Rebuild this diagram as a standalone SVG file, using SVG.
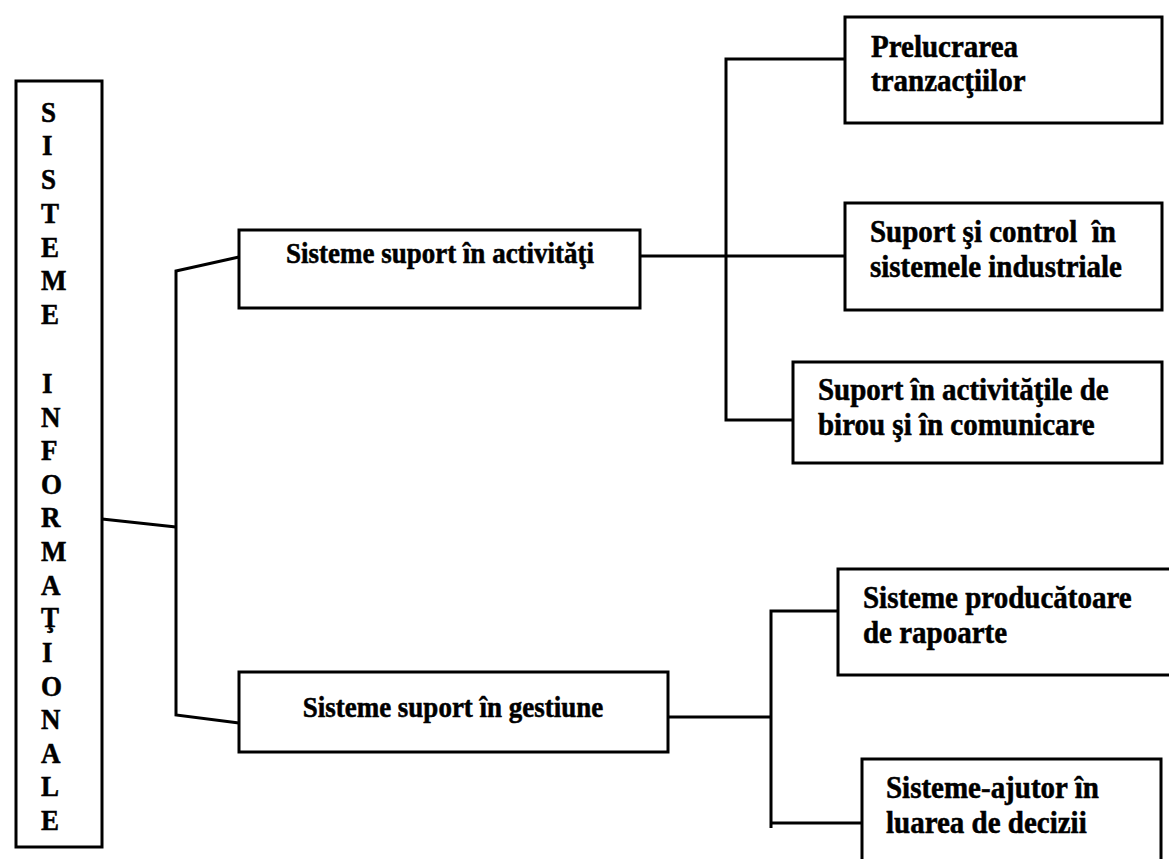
<svg xmlns="http://www.w3.org/2000/svg" width="1169" height="859" viewBox="0 0 1169 859">
  <style>
    .box { fill: #ffffff; stroke: #000000; stroke-width: 3; }
    .wire { fill: none; stroke: #000000; stroke-width: 3; stroke-linejoin: miter; }
    .t { font-family: "Liberation Serif", "Times New Roman", serif; font-weight: bold; fill: #000000; stroke: #000000; stroke-width: 0.5; }
    .mid { font-size: 27px; text-anchor: middle; }
    .side { font-size: 29px; white-space: pre; }
    .vert { font-size: 27px; }
  </style>
  <rect width="1169" height="859" fill="#ffffff"/>

  <!-- connectors -->
  <g id="connectors">
    <!-- root to the two branches -->
    <polyline class="wire" points="102,519 176,527"/>
    <polyline class="wire" points="239,257 176,271 176,715 239,723"/>
    <!-- activity support branch -->
    <line class="wire" x1="640" y1="256" x2="845" y2="256"/>
    <polyline class="wire" points="845,59 726,59 726,420 793,420"/>
    <!-- management support branch -->
    <line class="wire" x1="668" y1="717" x2="771" y2="717"/>
    <polyline class="wire" points="838,611 771,611 771,828"/>
    <line class="wire" x1="771" y1="823" x2="862" y2="823"/>
  </g>

  <!-- root: vertical title, letters slightly stretched in height -->
  <g id="sisteme-informationale">
    <rect class="box" x="16" y="81" width="86" height="766"/>
    <g class="t vert">
      <text transform="translate(41,122) scale(1,1.12)">S</text>
      <text transform="translate(42,155) scale(1,1.12)">I</text>
      <text transform="translate(41,189) scale(1,1.12)">S</text>
      <text transform="translate(41,223) scale(1,1.12)">T</text>
      <text transform="translate(41,257) scale(1,1.12)">E</text>
      <text transform="translate(41,290) scale(1,1.12)">M</text>
      <text transform="translate(41,324) scale(1,1.12)">E</text>
      <text transform="translate(42,393) scale(1,1.12)">I</text>
      <text transform="translate(41,427) scale(1,1.12)">N</text>
      <text transform="translate(41,460) scale(1,1.12)">F</text>
      <text transform="translate(41,494) scale(1,1.12)">O</text>
      <text transform="translate(41,527) scale(1,1.12)">R</text>
      <text transform="translate(41,561) scale(1,1.12)">M</text>
      <text transform="translate(41,595) scale(1,1.12)">A</text>
      <text transform="translate(41,627) scale(1,1.12)">Ţ</text>
      <text transform="translate(42,662) scale(1,1.12)">I</text>
      <text transform="translate(41,696) scale(1,1.12)">O</text>
      <text transform="translate(41,729) scale(1,1.12)">N</text>
      <text transform="translate(41,763) scale(1,1.12)">A</text>
      <text transform="translate(41,796) scale(1,1.12)">L</text>
      <text transform="translate(41,830) scale(1,1.12)">E</text>
    </g>
  </g>

  <g id="suport-activitati">
    <rect class="box" x="239" y="230" width="401" height="78"/>
    <text class="t mid" transform="translate(440,263) scale(1,1.12)">Sisteme suport în activităţi</text>
  </g>

  <g id="suport-gestiune">
    <rect class="box" x="239" y="672" width="429" height="80"/>
    <text class="t mid" transform="translate(453,717) scale(1,1.12)">Sisteme suport în gestiune</text>
  </g>

  <g id="prelucrarea-tranzactiilor">
    <rect class="box" x="845" y="17" width="317" height="106"/>
    <text class="t side" transform="translate(871,57) scale(1,1.1)">Prelucrarea</text>
    <text class="t side" transform="translate(871,91) scale(1,1.1)">tranzacţiilor</text>
  </g>

  <g id="suport-control">
    <rect class="box" x="845" y="203" width="317" height="107"/>
    <text class="t side" transform="translate(870,242) scale(1,1.1)">Suport şi control  în</text>
    <text class="t side" transform="translate(870,277) scale(1,1.1)">sistemele industriale</text>
  </g>

  <g id="suport-birou">
    <rect class="box" x="793" y="362" width="369" height="101"/>
    <text class="t side" transform="translate(818,400) scale(1,1.1)">Suport în activităţile de</text>
    <text class="t side" transform="translate(818,435) scale(1,1.1)">birou şi în comunicare</text>
  </g>

  <g id="sisteme-rapoarte">
    <rect class="box" x="838" y="569" width="340" height="106"/>
    <text class="t side" transform="translate(863,608) scale(1,1.1)">Sisteme producătoare</text>
    <text class="t side" transform="translate(863,643) scale(1,1.1)">de rapoarte</text>
  </g>

  <g id="sisteme-decizii">
    <rect class="box" x="862" y="759" width="299" height="120"/>
    <text class="t side" transform="translate(886,798) scale(1,1.1)">Sisteme-ajutor în</text>
    <text class="t side" transform="translate(886,833) scale(1,1.1)">luarea de decizii</text>
  </g>
</svg>
